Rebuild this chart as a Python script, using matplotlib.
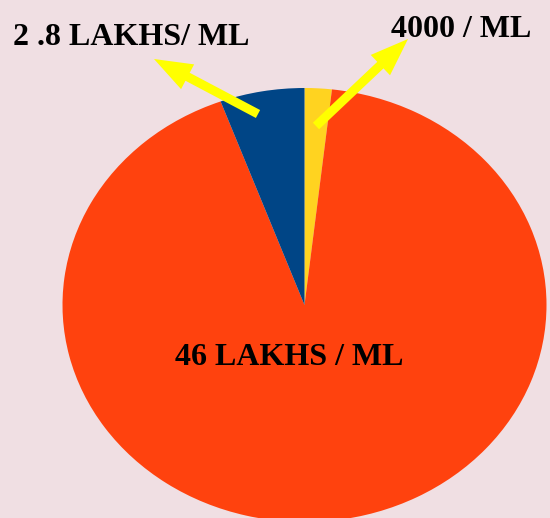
import matplotlib
matplotlib.use("Agg")
import matplotlib.pyplot as plt

# Data
labels = ["4000 / ML", "46 LAKHS / ML", "2 .8 LAKHS/ ML"]
values = [0.9, 46.0, 2.8]
colors = ["#ffd320", "#ff420e", "#004586"]

W, H = 550, 518
fig = plt.figure(figsize=(W / 100, H / 100), dpi=100)
fig.patch.set_facecolor("#f0dfe3")

# pie ellipse: center (305,305 from top), rx 242, ry 217
cx, cy, rx, ry = 304.5, 305, 242, 217
ax = fig.add_axes([(cx - rx) / W, (H - cy - ry) / H, 2 * rx / W, 2 * ry / H])
ax.pie(values, colors=colors, startangle=90, counterclock=False,
       wedgeprops=dict(linewidth=0))
ax.set_aspect("auto")
ax.set_xlim(-1, 1)
ax.set_ylim(-1, 1)
ax.axis("off")

font = dict(family=["Liberation Serif", "DejaVu Serif"], weight="bold",
            size=23, color="black")

def px(x, y):
    return (x, H - y)

fig.text(13 / W, (H - 45) / H, labels[2], ha="left", va="baseline", **font)
fig.text(391 / W, (H - 37) / H, labels[0], ha="left", va="baseline", **font)
fig.text(175 / W, (H - 365) / H, labels[1], ha="left", va="baseline", **font)

arrow = dict(arrowstyle="simple,head_length=38,head_width=28,tail_width=9",
             facecolor="#ffff00", edgecolor="none", lw=0,
             shrinkA=0, shrinkB=0, mutation_scale=0.72)
ax.annotate("", xy=px(154, 59), xytext=px(258, 114),
            xycoords="figure pixels", textcoords="figure pixels",
            arrowprops=arrow, annotation_clip=False)
ax.annotate("", xy=px(408, 39), xytext=px(316, 126),
            xycoords="figure pixels", textcoords="figure pixels",
            arrowprops=arrow, annotation_clip=False)

fig.savefig("out.png", dpi=100, facecolor=fig.get_facecolor())
